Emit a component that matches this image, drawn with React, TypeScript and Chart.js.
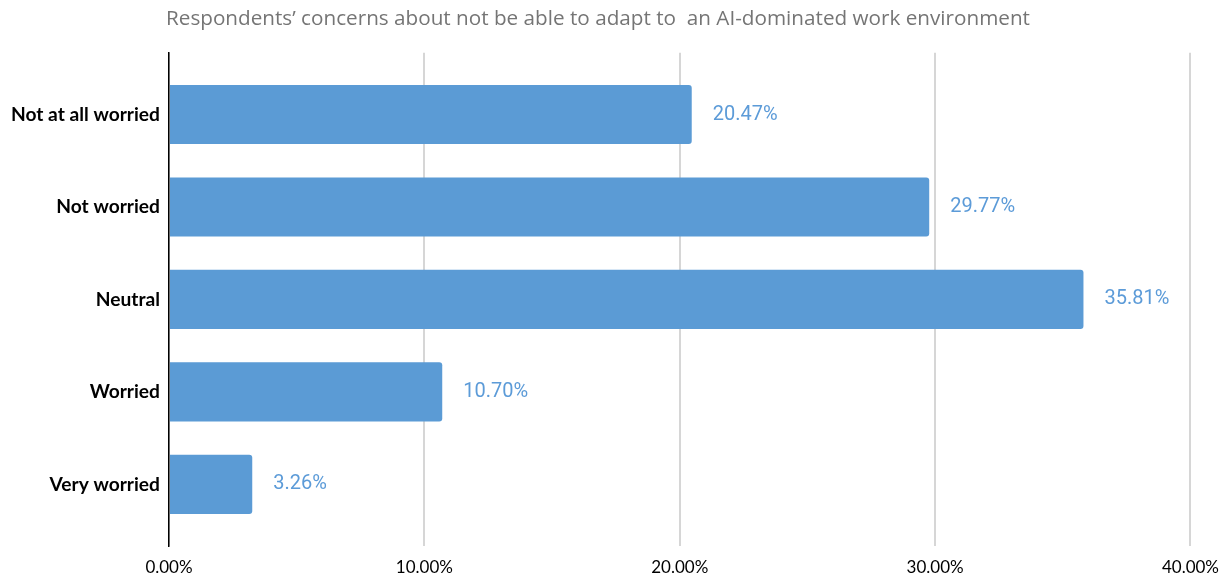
import React, { useEffect, useRef } from "react";
import { Chart, registerables } from "chart.js";

Chart.register(...registerables);

const categories = ["Not at all worried", "Not worried", "Neutral", "Worried", "Very worried"];
const values = [20.47, 29.77, 35.81, 10.7, 3.26];
const xTicks = [0, 10, 20, 30, 40];
const title = "Respondents\u2019 concerns about not be able to adapt to  an AI-dominated work environment";

const barColor = "#5b9bd5";
const labelColor = "#5c9bd8";

const valueLabels = {
  id: "valueLabels",
  afterDatasetsDraw(chart: any) {
    const ctx = chart.ctx;
    const meta = chart.getDatasetMeta(0);
    ctx.save();
    ctx.font = "20px Roboto";
    ctx.fillStyle = labelColor;
    ctx.textAlign = "left";
    ctx.textBaseline = "middle";
    meta.data.forEach((el: any, i: number) => {
      ctx.fillText(values[i].toFixed(2) + "%", el.x + 21, el.y);
    });
    ctx.restore();
  },
};

export default function App() {
  const ref = useRef<HTMLCanvasElement>(null);
  useEffect(() => {
    if (!ref.current) return;
    const chart = new Chart(ref.current, {
      type: "bar",
      data: {
        datasets: [
          {
            data: values.map((v, i) => ({ x: v, y: i })),
            backgroundColor: barColor,
            borderRadius: 3,
            barPercentage: 0.64,
            categoryPercentage: 1,
          },
        ],
      },
      options: {
        indexAxis: "y",
        animation: false,
        responsive: true,
        maintainAspectRatio: false,
        layout: { padding: { left: 0, right: 34, top: 0, bottom: 0 } },
        plugins: {
          legend: { display: false },
          tooltip: { enabled: false },
          title: {
            display: true,
            text: title,
            color: "#757575",
            font: { family: "'Open Sans'", size: 20.7, weight: "normal" },
            padding: { top: 7, bottom: 21 },
          },
        },
        scales: {
          x: {
            type: "linear",
            min: 0,
            max: 40,
            bounds: "data",
            afterBuildTicks: (s: any) => {
              s.ticks = xTicks.map((v) => ({ value: v }));
            },
            afterFit: (s: any) => {
              s.height = 30;
            },
            ticks: {
              color: "#000",
              font: { family: "Lato", size: 17 },
              padding: 11,
              callback: (v: any) => Number(v).toFixed(2) + "%",
              maxRotation: 0,
            },
            grid: { color: "#d6d6d6", lineWidth: 2, drawTicks: false },
            border: { display: false },
          },
          y: {
            type: "linear",
            reverse: true,
            offset: false,
            bounds: "data",
            min: -0.667,
            max: categories.length - 1 + 0.667,
            afterBuildTicks: (s: any) => {
              s.min = -0.667;
              s.max = categories.length - 1 + 0.667;
              s.ticks = categories.map((_, i) => ({ value: i }));
            },
            afterFit: (s: any) => {
              s.width = 169;
            },
            ticks: {
              color: "#000",
              font: { family: "Lato", size: 19.2, weight: "bold" },
              padding: 9,
              callback: (v: any) => categories[v] ?? "",
            },
            grid: { display: false, drawTicks: false, offset: false },
            border: { display: true, color: "#000", width: 1.5 },
          },
        },
      },
      plugins: [valueLabels],
    } as any);
    return () => chart.destroy();
  }, []);
  return (
    <div style={{ position: "absolute", left: 0, top: 0, width: 1230, height: 576, background: "#fff" }}>
      <canvas ref={ref} />
    </div>
  );
}
